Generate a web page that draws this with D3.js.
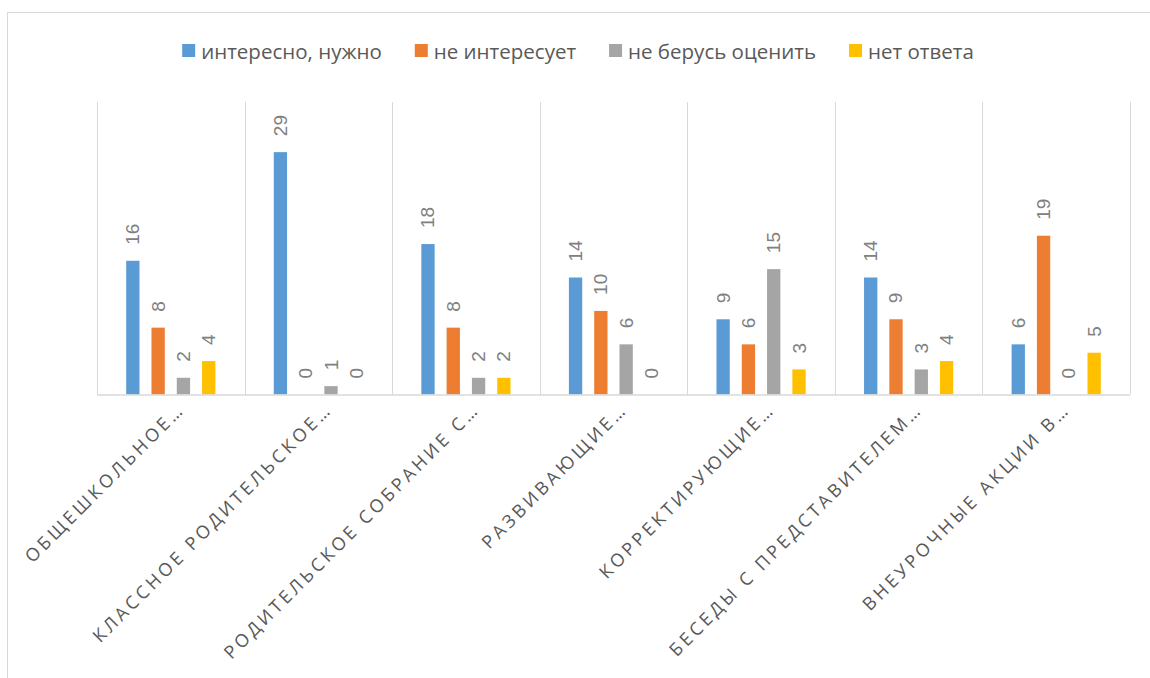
<!DOCTYPE html>
<html><head><meta charset="utf-8">
<script src="https://cdn.jsdelivr.net/npm/d3@7"></script>
<style>
html,body{margin:0;padding:0;background:#fff;}
svg{display:block;}
</style></head>
<body>
<svg id="chart" width="1150" height="678"></svg>
<script>
const categories = ["ОБЩЕШКОЛЬНОЕ…","КЛАССНОЕ РОДИТЕЛЬСКОЕ…","РОДИТЕЛЬСКОЕ СОБРАНИЕ С…","РАЗВИВАЮЩИЕ…","КОРРЕКТИРУЮЩИЕ…","БЕСЕДЫ С ПРЕДСТАВИТЕЛЕМ…","ВНЕУРОЧНЫЕ АКЦИИ В…"];
const seriesNames = ["интересно, нужно","не интересует","не берусь оценить","нет ответа"];
const seriesColors = ["#5B9BD5","#ED7D31","#A5A5A5","#FFC000"];
const interesting = [16,29,18,14,9,14,6];
const notInterested = [8,0,8,10,6,9,19];
const cannotJudge = [2,1,2,6,15,3,0];
const noAnswer = [4,0,2,0,3,4,5];
const yDomain = [0,35];

const values = [interesting, notInterested, cannotJudge, noAnswer];
const svg = d3.select("#chart");

// chart border
svg.append("rect").attr("x",7.5).attr("y",12.5).attr("width",1160).attr("height",700)
  .attr("fill","none").attr("stroke","#D9D9D9").attr("stroke-width",1);

const plotL = 97, plotR = 1130, plotB = 394.5, plotT = 102;
const x = d3.scaleBand().domain(categories).range([plotL, plotR]).paddingInner(0).paddingOuter(0);
const y = d3.scaleLinear().domain(yDomain).range([plotB, plotT]);
const bw = x.bandwidth();
const xs = d3.scaleBand().domain(seriesNames).range([bw/2 - 44.6, bw/2 + 44.6]).paddingInner(0.474).paddingOuter(0);

// vertical gridlines at category boundaries
const bounds = categories.map(c => x(c)).concat([plotR]);
svg.append("g").selectAll("line").data(bounds).join("line")
  .attr("x1", d => Math.round(d)+0.5).attr("x2", d => Math.round(d)+0.5)
  .attr("y1", plotT).attr("y2", plotB)
  .attr("stroke","#D9D9D9").attr("stroke-width",1);

// bars
const groups = svg.append("g").selectAll("g").data(categories).join("g")
  .attr("transform", c => `translate(${x(c)},0)`);
groups.each(function(c, ci){
  const g = d3.select(this);
  seriesNames.forEach((s, si) => {
    const v = values[si][ci];
    g.append("rect")
      .attr("x", xs(s)).attr("width", xs.bandwidth())
      .attr("y", y(v)).attr("height", y(0) - y(v))
      .attr("fill", seriesColors[si]);
    g.append("text")
      .attr("transform", `translate(${xs(s) + xs.bandwidth()/2},${y(v) - 16}) rotate(-90)`)
      .attr("text-anchor","start").attr("dominant-baseline","central")
      .attr("font-family","'Liberation Sans', Arial, sans-serif").attr("font-size",19)
      .attr("fill","#808080").text(v);
  });
});

// baseline axis
svg.append("line").attr("x1",plotL).attr("x2",plotR).attr("y1",plotB+0.5).attr("y2",plotB+0.5)
  .attr("stroke","#D9D9D9").attr("stroke-width",1.3);

// category labels
svg.append("g").selectAll("text").data(categories).join("text")
  .attr("transform", c => `translate(${x(c) + bw/2 + 15},${plotB + 16}) rotate(-45)`)
  .attr("text-anchor","end")
  .attr("font-family","'Open Sans', sans-serif").attr("font-size",18)
  .attr("letter-spacing","3.4px")
  .attr("fill","#595959").text(c => c);

// legend
const leg = svg.append("g");
const items = leg.selectAll("g").data(seriesNames).join("g");
items.append("rect").attr("width",13).attr("height",13).attr("y",44)
  .attr("fill",(d,i)=>seriesColors[i]);
items.append("text").attr("x",19).attr("y",50.5).attr("dominant-baseline","central")
  .attr("font-family","'Open Sans', sans-serif").attr("font-size",20.5)
  .attr("fill","#595959").text(d=>d);
let cur = 0;
const offs = [];
items.each(function(){
  offs.push(cur);
  const w = 19 + d3.select(this).select("text").node().getComputedTextLength();
  cur += w + 33;
});
const total = cur - 33;
const start = 578 - total/2;
items.attr("transform",(d,i)=>`translate(${start + offs[i]},0)`);
</script>
</body></html>
